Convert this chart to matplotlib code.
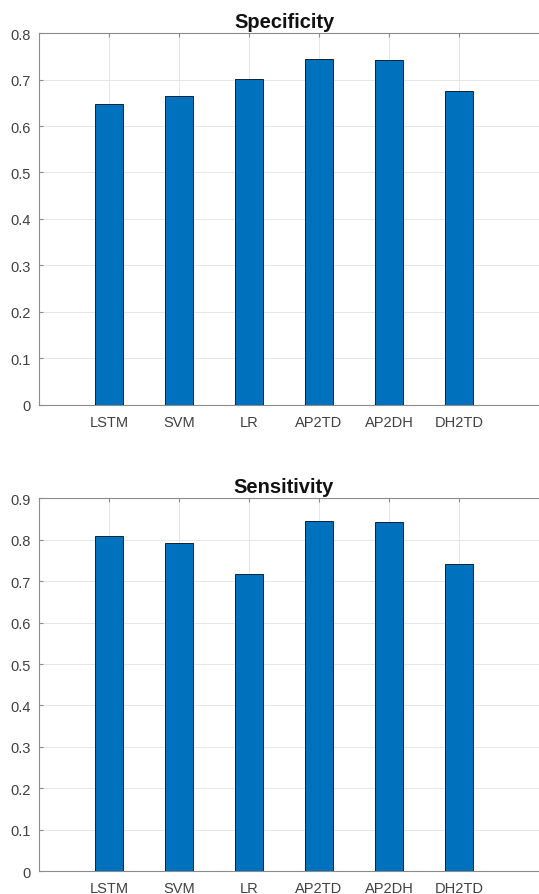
import matplotlib.pyplot as plt
import matplotlib.transforms as mtransforms
import numpy as np

plt.rcParams['font.family'] = ['Liberation Sans', 'DejaVu Sans']

models = ["LSTM", "SVM", "LR", "AP2TD", "AP2DH", "DH2TD"]
specificity = [0.648, 0.665, 0.702, 0.744, 0.743, 0.675]
sensitivity = [0.808, 0.793, 0.718, 0.844, 0.843, 0.741]

bar_color = "#0072BD"
axis_gray = "#8c8c8c"
text_gray = "#404040"

fig = plt.figure(figsize=(5.39, 8.95), dpi=100)

# xlim runs past the right edge: the source picture is cropped there
ax1 = fig.add_axes([0.0724, 0.5464, 0.974, 0.4156])
ax2 = fig.add_axes([0.0724, 0.0254, 0.974, 0.4168])


def draw_panel(ax, values, title, ymax):
    x = np.arange(1, len(models) + 1)
    ax.bar(x, values, width=0.4, color=bar_color, edgecolor="#0d2238",
           linewidth=0.7, zorder=3)
    ax.set_xlim(0, 7.5)
    ax.set_ylim(0, ymax)
    ax.set_xticks(x)
    ax.set_xticklabels(models)
    yt = np.round(np.arange(0, ymax + 0.001, 0.1), 1)
    ax.set_yticks(yt)
    ax.set_yticklabels([("%g" % v) for v in yt])
    ax.grid(True, color="#e3e3e3", linewidth=0.6, zorder=0)
    ax.tick_params(direction="in", length=3, color=axis_gray, labelcolor=text_gray,
                   labelsize=10.5, top=True, right=False)
    ax.tick_params(axis="x", pad=7)
    ax.tick_params(axis="y", pad=6)
    for side in ["top", "bottom", "left"]:
        ax.spines[side].set_color(axis_gray)
        ax.spines[side].set_linewidth(0.8)
    ax.spines["right"].set_visible(False)
    trans = mtransforms.blended_transform_factory(ax.transData, ax.transAxes)
    ax.text(3.5, 1.006, title, transform=trans, ha="center", va="bottom",
            fontsize=14.5, fontweight="bold", color="#111111")


draw_panel(ax1, specificity, "Specificity", 0.8)
draw_panel(ax2, sensitivity, "Sensitivity", 0.9)

fig.savefig("out.png", dpi=100)
